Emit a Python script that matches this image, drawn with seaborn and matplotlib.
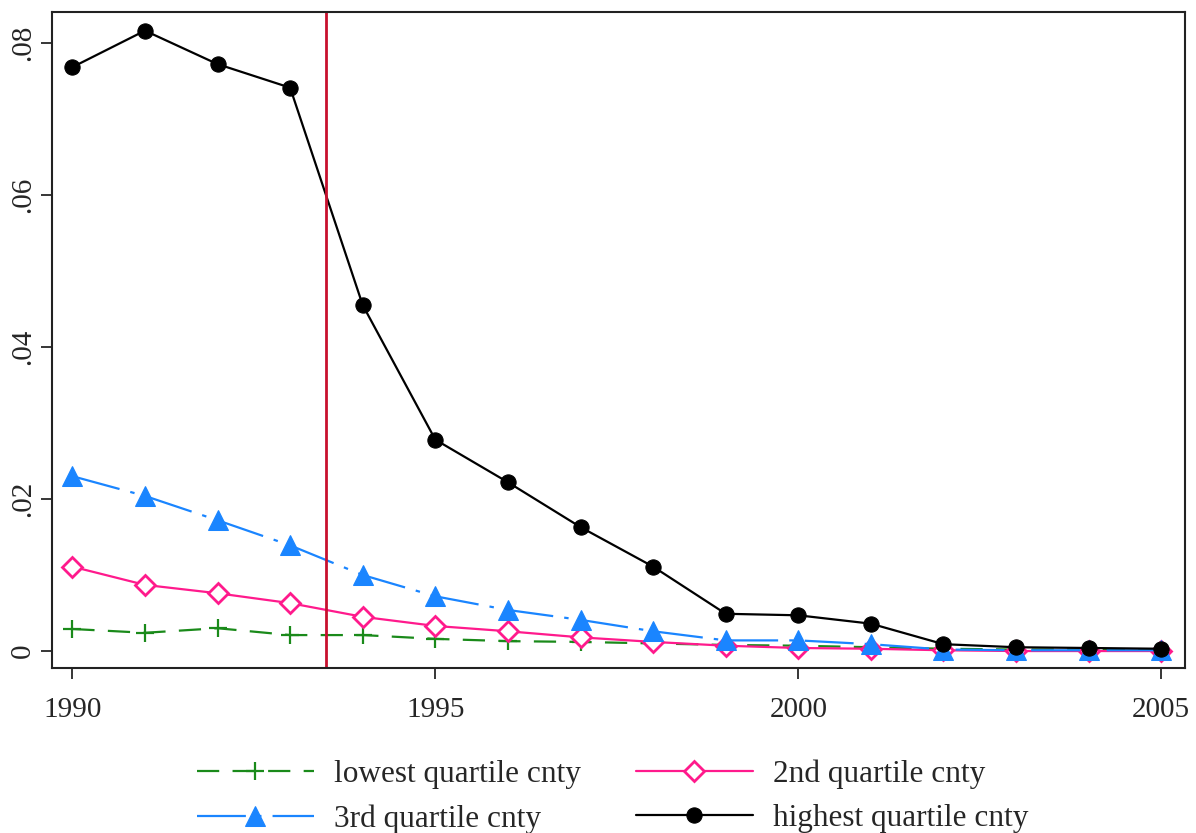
import matplotlib
matplotlib.use("Agg")
import matplotlib.pyplot as plt
import pandas as pd
import seaborn as sns

sns.set_style("ticks")
plt.rcParams['font.family'] = ['Liberation Serif', 'DejaVu Serif']

years = list(range(1990, 2006))
lowest = [0.0029, 0.0024, 0.0030, 0.0021, 0.0021, 0.0016, 0.0013, 0.0012,
          0.0010, 0.0008, 0.0007, 0.0005, 0.0003, 0.0002, 0.0002, 0.0002]
second = [0.0111, 0.0087, 0.0076, 0.0063, 0.0045, 0.0033, 0.0026, 0.0018,
          0.0012, 0.0007, 0.0004, 0.0003, 0.0001, 0.0000, 0.0000, 0.0000]
third = [0.0230, 0.0204, 0.0172, 0.0139, 0.0100, 0.0072, 0.0054, 0.0041,
         0.0026, 0.0014, 0.0014, 0.0009, 0.0002, 0.0001, 0.0001, 0.0001]
highest = [0.0768, 0.0816, 0.0772, 0.0741, 0.0455, 0.0278, 0.0222, 0.0163,
           0.0111, 0.0049, 0.0047, 0.0036, 0.0009, 0.0005, 0.0004, 0.0003]
labels = ["lowest quartile cnty", "2nd quartile cnty",
          "3rd quartile cnty", "highest quartile cnty"]
cutoff_year = 1993.5

df = pd.DataFrame({"year": years, "lowest": lowest, "second": second,
                   "third": third, "highest": highest})

fig = plt.figure(figsize=(11.96, 8.33), dpi=100)
ax = fig.add_axes([0.0435, 0.198, 0.9475, 0.788])

styles = [
    ("lowest", "#1a8a1a", "+", (0, (10, 6)), dict(markersize=13, markeredgewidth=1.6)),
    ("second", "#ff1a8c", "D", "-", dict(markersize=10, markerfacecolor="white",
                                        markeredgewidth=2)),
    ("third", "#1a85ff", "^", (0, (22, 5, 2, 5)), dict(markersize=14)),
    ("highest", "black", "o", "-", dict(markersize=11)),
]
for (col, color, marker, ls, kw), lab in zip(styles, labels):
    sns.lineplot(data=df, x="year", y=col, ax=ax, color=color, marker=marker,
                 linestyle=ls, linewidth=1.6, markeredgecolor=color,
                 label=lab, **kw)

ax.axvline(cutoff_year, color="#c8102e", linewidth=2)

ax.set_xlim(1989.72, 2005.33)
ax.set_ylim(-0.00224, 0.0841)
ax.set_xticks([1990, 1995, 2000, 2005])
ax.set_yticks([0, 0.02, 0.04, 0.06, 0.08])
ax.set_yticklabels(["0", ".02", ".04", ".06", ".08"], rotation=90, va="center")
ax.tick_params(labelsize=21, length=8, width=1.3, direction="out")
ax.tick_params(axis="x", pad=13)
ax.set_xlabel("")
ax.set_ylabel("")
for s in ax.spines.values():
    s.set_visible(True)
    s.set_linewidth(1.5)
    s.set_color("#222222")

# matplotlib fills legend columns first; reorder so rows read like the original
h, l = ax.get_legend_handles_labels()
order = [0, 2, 1, 3]
ax.legend([h[i] for i in order], [l[i] for i in order],
          loc="center", bbox_to_anchor=(0.512, 0.044),
          bbox_transform=fig.transFigure, ncol=2,
          frameon=False, fontsize=22.5, handlelength=3.75, columnspacing=1.76,
          handletextpad=0.64, labelspacing=0.5, borderpad=0.2)

fig.savefig("out.png", dpi=100, facecolor="white")
